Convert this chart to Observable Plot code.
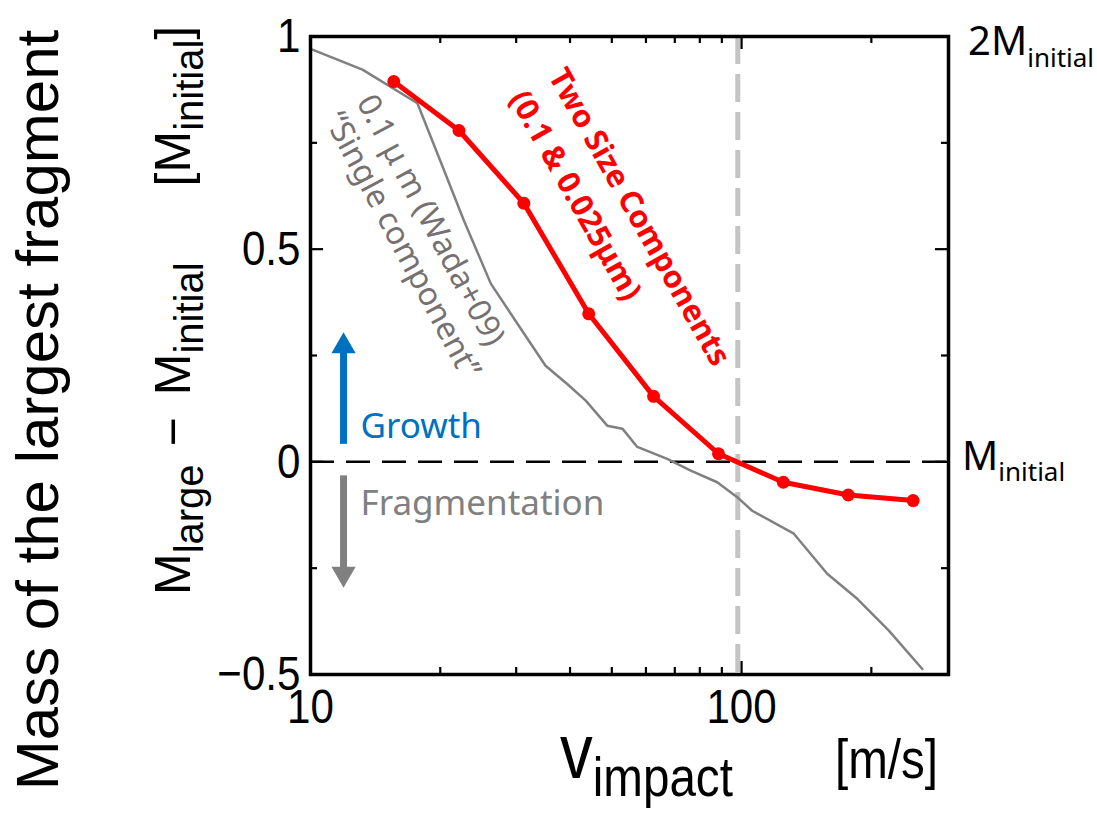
<!DOCTYPE html>
<html><head><meta charset="utf-8">
<script src="https://cdn.jsdelivr.net/npm/d3@7"></script>
<script src="https://cdn.jsdelivr.net/npm/@observablehq/plot@0.6"></script>
<style>body{margin:0;background:#fff} svg{display:block}</style>
</head><body><div id="chart"></div>
<script>
// ---- data ----
const xTickLabels = [10, 100];
const xMajorTicks = [10, 100];
const xMinorTicks = [20, 30, 40, 50, 60, 70, 80, 90, 200];
const yTickLabels = [-0.5, 0, 0.5, 1];
const yMajorTicks = [-0.5, 0, 0.5, 1];
const yMinorTicks = [-0.25, 0.25, 0.75];

const twoSizeVelocity = [15.6, 22.1, 31.25, 44.2, 62.5, 88.4, 125, 176.8, 250];
const twoSizeMass = [0.894, 0.779, 0.608, 0.348, 0.154, 0.019, -0.048, -0.078, -0.091];

const singleVelocity = [10.0, 13.2, 17.7, 20.0, 22.7, 26.2, 31.3, 35.1, 39.4, 43.5, 48.8, 52.9, 57.3, 67.2, 76, 87.8, 97.7, 105.8, 132.2, 158, 185.5, 219.6, 262.6];
const singleMass = [0.971, 0.922, 0.843, 0.708, 0.567, 0.419, 0.301, 0.226, 0.183, 0.144, 0.085, 0.078, 0.035, 0.007, -0.02, -0.048, -0.083, -0.115, -0.169, -0.263, -0.322, -0.397, -0.487];

const criticalVelocity = [98];
const zeroLevel = [0];

// ---- layout ----
const W = 1097, H = 814;
const mL = 310, mR = 149, mT = 36, mB = 140;
const fw = W - mL - mR, fh = H - mT - mB;

const twoSize = twoSizeVelocity.map((v, i) => ({v, m: twoSizeMass[i]}));
const single = singleVelocity.map((v, i) => ({v, m: singleMass[i]}));

const SANS = '"Liberation Sans", Arial, sans-serif';
const NOTO = '"Noto Sans", "Open Sans", sans-serif';
const fmt = d => d < 0 ? "\u2212" + Math.abs(d) : String(d);

const chart = Plot.plot({
  width: W, height: H,
  marginLeft: mL, marginRight: mR, marginTop: mT, marginBottom: mB,
  x: {type: "log", domain: [10, 302]},
  y: {domain: [-0.5, 1]},
  style: {fontFamily: SANS, background: "white"},
  marks: [
    Plot.ruleX(criticalVelocity, {x: d => d, stroke: "#C4C4C4", strokeWidth: 5, strokeDasharray: "28,10"}),
    Plot.ruleY(zeroLevel, {y: d => d, stroke: "black", strokeWidth: 2.5, strokeDasharray: "24,12"}),
    Plot.line(single, {x: "v", y: "m", stroke: "#808080", strokeWidth: 2.5}),
    Plot.line(twoSize, {x: "v", y: "m", stroke: "#FF0000", strokeWidth: 5}),
    Plot.dot(twoSize, {x: "v", y: "m", fill: "#FF0000", r: 6.5}),

    // inward ticks
    Plot.tickX(xMinorTicks, {x: d => d, insetTop: fh - 7, strokeWidth: 2.2}),
    Plot.tickX(xMinorTicks, {x: d => d, insetBottom: fh - 7, strokeWidth: 2.2}),
    Plot.tickX(xMajorTicks, {x: d => d, insetTop: fh - 13, strokeWidth: 2.2}),
    Plot.tickX(xMajorTicks, {x: d => d, insetBottom: fh - 13, strokeWidth: 2.2}),
    Plot.tickY(yMinorTicks, {y: d => d, insetRight: fw - 7, strokeWidth: 2.2}),
    Plot.tickY(yMinorTicks, {y: d => d, insetLeft: fw - 7, strokeWidth: 2.2}),
    Plot.tickY(yMajorTicks, {y: d => d, insetRight: fw - 13, strokeWidth: 2.2}),
    Plot.tickY(yMajorTicks, {y: d => d, insetLeft: fw - 13, strokeWidth: 2.2}),
    Plot.frame({stroke: "black", strokeWidth: 3.5}),

    Plot.axisY(yTickLabels, {tickSize: 0, tickPadding: 10, fontSize: 49, fontFamily: SANS, tickFormat: fmt, label: null, fill: "black"}),
    Plot.axisX(xTickLabels, {tickSize: 0, tickPadding: 14, fontSize: 49, fontFamily: SANS, tickFormat: fmt, label: null, fill: "black"}),

    // arrows
    Plot.ruleX([11.93], {x: d => d, y1: 0.041, y2: 0.26, stroke: "#0070C0", strokeWidth: 7}),
    Plot.dot([11.93], {x: d => d, y: 0.272, symbol: "triangle", r: 9, fill: "#0070C0", stroke: null}),
    Plot.ruleX([11.93], {x: d => d, y1: -0.033, y2: -0.25, stroke: "#808080", strokeWidth: 7}),
    Plot.dot([11.93], {x: d => d, y: -0.263, symbol: "triangle", r: 9, rotate: 180, fill: "#808080", stroke: null}),

    // annotations
    Plot.text(["Growth"], {x: 13.06, y: 0.055, text: d => d, textAnchor: "start", lineAnchor: "bottom", fontSize: 35, fill: "#0070C0", fontFamily: NOTO}),
    Plot.text(["Fragmentation"], {x: 13.06, y: -0.126, text: d => d, textAnchor: "start", lineAnchor: "bottom", fontSize: 35, fill: "#808080", fontFamily: NOTO}),
    Plot.text(["Two Size Components\n(0.1 & 0.025\u03bcm)"], {x: 41.2, y: 0.944, text: d => d, rotate: 60.5, textAnchor: "start", lineAnchor: "top", fontSize: 31, fontWeight: "bold", fill: "#FF0000", lineHeight: 1.45, fontFamily: NOTO}),
    Plot.text(["0.1 \u03bc m (Wada+09)\n\u201cSingle component\u201d"], {x: 14.43, y: 0.875, text: d => d, rotate: 62, textAnchor: "start", lineAnchor: "top", fontSize: 32, fill: "#767171", lineHeight: 1.15, fontFamily: NOTO})
  ]
});

document.getElementById("chart").appendChild(chart);

const svg = d3.select(chart);

// condense tick labels horizontally (reference uses a narrow sans)
function condense(sel, k) {
  sel.each(function() {
    const t = this.getAttribute("transform") || "";
    const x = this.getAttribute("x");
    if (x !== null && !isNaN(+x)) this.setAttribute("x", +x / k);
    this.setAttribute("transform", (t ? t + " " : "") + `scale(${k},1)`);
  });
}
condense(svg.selectAll('g[aria-label="y-axis tick label"] text, g[aria-label="x-axis tick label"] text'), 0.86);

// left big title
svg.append("text")
  .attr("transform", "translate(58,410) rotate(-90)")
  .attr("text-anchor", "middle")
  .style("font-family", SANS).style("font-size", "60px").attr("fill", "black")
  .text("Mass of the largest fragment");

// y axis label
const yl = svg.append("text")
  .attr("transform", "translate(190,595) rotate(-90)")
  .attr("text-anchor", "start")
  .style("font-family", SANS).style("font-size", "50px").attr("fill", "black");
yl.append("tspan").text("M");
yl.append("tspan").attr("dy", 13).style("font-size", "40px").text("large");
yl.append("tspan").attr("dy", -13).attr("dx", 18).text("\u2212");
yl.append("tspan").attr("dx", 22).text("M");
yl.append("tspan").attr("dy", 13).style("font-size", "40px").text("initial");
yl.append("tspan").attr("dy", -13).attr("dx", 76).text("[");
yl.append("tspan").text("M");
yl.append("tspan").attr("dy", 13).style("font-size", "40px").text("initial");
yl.append("tspan").attr("dy", -13).text("]");

// x axis label
const xl = svg.append("text").attr("transform", "translate(560,778) scale(0.85,1)")
  .attr("text-anchor", "start")
  .style("font-family", SANS).style("font-size", "77px").attr("fill", "black");
xl.append("tspan").text("v");
xl.append("tspan").attr("dy", 18).style("font-size", "56px").text("impact");
svg.append("text").attr("transform", "translate(835,778) scale(0.85,1)")
  .attr("text-anchor", "start")
  .style("font-family", SANS).style("font-size", "56px").attr("fill", "black")
  .text("[m/s]");

// right labels
const r1 = svg.append("text").attr("x", 968).attr("y", 55).attr("text-anchor", "start")
  .style("font-family", NOTO).style("font-size", "40px").attr("fill", "black");
r1.append("tspan").text("2M");
r1.append("tspan").attr("dy", 12).style("font-size", "26px").text("initial");
const r2 = svg.append("text").attr("x", 962).attr("y", 470).attr("text-anchor", "start")
  .style("font-family", NOTO).style("font-size", "40px").attr("fill", "black");
r2.append("tspan").text("M");
r2.append("tspan").attr("dy", 11).style("font-size", "26px").text("initial");
</script>
</body></html>
